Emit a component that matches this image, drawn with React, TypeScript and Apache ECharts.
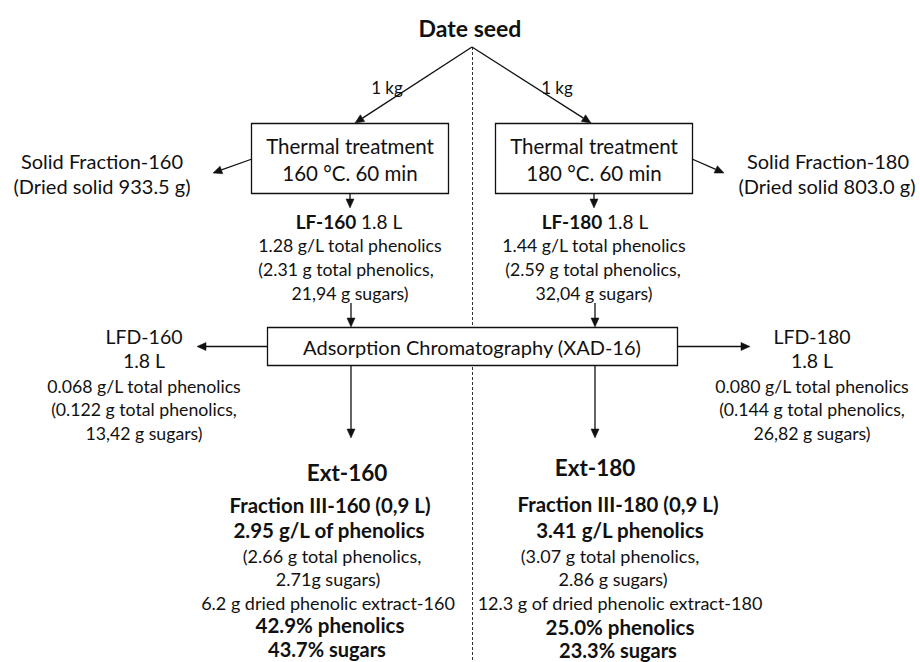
import React, { useEffect, useRef } from "react";
import * as echarts from "echarts";

// ---------- content ----------
const title = "Date seed";
const feedLabels = ["1 kg", "1 kg"];
const treatmentLines = [
  ["Thermal treatment", "160 °C. 60 min"],
  ["Thermal treatment", "180 °C. 60 min"],
];
const solidFractionLines = [
  ["Solid Fraction-160", "(Dried solid 933.5 g)"],
  ["Solid Fraction-180", "(Dried solid 803.0 g)"],
];
const liquidNames = ["LF-160", "LF-180"];
const liquidVolumes = ["1.8 L", "1.8 L"];
const liquidDetails = [
  ["1.28 g/L total phenolics", "(2.31 g total phenolics,", "21,94 g sugars)"],
  ["1.44 g/L total phenolics", "(2.59 g total phenolics,", "32,04 g sugars)"],
];
const adsorptionLabel = "Adsorption Chromatography (XAD-16)";
const depletedNames = ["LFD-160", "LFD-180"];
const depletedVolumes = ["1.8 L", "1.8 L"];
const depletedDetails = [
  ["0.068 g/L total phenolics", "(0.122 g total phenolics,", "13,42 g sugars)"],
  ["0.080 g/L total phenolics", "(0.144 g total phenolics,", "26,82 g sugars)"],
];
const extractNames = ["Ext-160", "Ext-180"];
const extractFractions = ["Fraction III-160 (0,9 L)", "Fraction III-180 (0,9 L)"];
const extractConcentrations = ["2.95 g/L of phenolics", "3.41 g/L phenolics"];
const extractDetails = [
  ["(2.66 g total phenolics,", "2.71g sugars)", "6.2 g dried phenolic extract-160"],
  ["(3.07 g total phenolics,", "2.86 g sugars)", "12.3 g of dried phenolic extract-180"],
];
const extractComposition = [
  ["42.9% phenolics", "43.7% sugars"],
  ["25.0% phenolics", "23.3% sugars"],
];

// ---------- layout ----------
const FONT = "Lato, 'Noto Sans', sans-serif";
const INK = "#111";

function txt(text: string, x: number, y: number, size: number, bold = false): any {
  return {
    type: "text",
    x,
    y,
    style: {
      text,
      fill: INK,
      font: `${bold ? "bold " : ""}${size}px ${FONT}`,
      fontSize: size,
      fontWeight: bold ? "bold" : "normal",
      fontFamily: FONT,
      align: "center",
      verticalAlign: "middle",
    },
  };
}

function mixed(boldPart: string, rest: string, x: number, y: number, size: number): any {
  return {
    type: "text",
    x,
    y,
    style: {
      text: `{b|${boldPart}}{n| ${rest}}`,
      fill: INK,
      align: "center",
      verticalAlign: "middle",
      rich: {
        b: { fontSize: size, fontWeight: "bold", fontFamily: FONT, fill: INK },
        n: { fontSize: size, fontWeight: "normal", fontFamily: FONT, fill: INK },
      },
    },
  };
}

function arrow(x1: number, y1: number, x2: number, y2: number): any[] {
  const a = Math.atan2(y2 - y1, x2 - x1);
  const L = 9;
  const w = 4;
  const bx = x2 - L * Math.cos(a);
  const by = y2 - L * Math.sin(a);
  const px = -Math.sin(a) * w;
  const py = Math.cos(a) * w;
  return [
    { type: "line", shape: { x1, y1, x2: bx, y2: by }, style: { stroke: INK, lineWidth: 1.3 } },
    {
      type: "polygon",
      shape: { points: [[x2, y2], [bx + px, by + py], [bx - px, by - py]] },
      style: { fill: INK, stroke: INK, lineWidth: 0.5 },
    },
  ];
}

function box(x: number, y: number, w: number, h: number): any {
  return {
    type: "rect",
    shape: { x, y, width: w, height: h },
    style: { fill: "#fff", stroke: INK, lineWidth: 1.3 },
  };
}

function buildGraphic(): any[] {
  const g: any[] = [];
  // dashed separator
  g.push({
    type: "line",
    shape: { x1: 472.5, y1: 47, x2: 472.5, y2: 662 },
    style: { stroke: "#333", lineWidth: 1, lineDash: [3, 2] },
  });
  // title
  g.push(txt(title, 470, 28, 23, true));
  // feed arrows
  g.push(...arrow(472, 47, 355, 123));
  g.push(...arrow(472, 47, 591, 123));
  g.push(txt(feedLabels[0], 387, 87, 17));
  g.push(txt(feedLabels[1], 557, 87, 17));

  const boxX = [251.5, 495.5];
  const colX = [350, 594];
  for (let i = 0; i < 2; i++) {
    g.push(box(boxX[i], 123.5, 197, 70));
    const cx = boxX[i] + 98.5;
    g.push(txt(treatmentLines[i][0], cx, 146, 20.5));
    g.push(txt(treatmentLines[i][1], cx, 173, 20.5));
    g.push(...arrow(colX[i], 193.5, colX[i], 208));
  }
  // solid fractions
  g.push(...arrow(252, 159, 213, 173));
  g.push(...arrow(692, 159, 724, 173));
  g.push(txt(solidFractionLines[0][0], 102, 161, 20));
  g.push(txt(solidFractionLines[0][1], 102, 186, 20));
  g.push(txt(solidFractionLines[1][0], 828, 161, 20));
  g.push(txt(solidFractionLines[1][1], 827, 186, 20));

  // liquid fractions
  const lfX = [349, 595];
  const lfDetX = [[350, 346, 350], [594, 593, 594]];
  for (let i = 0; i < 2; i++) {
    g.push(mixed(liquidNames[i], liquidVolumes[i], lfX[i], 221, 19));
    liquidDetails[i].forEach((t, j) => g.push(txt(t, lfDetX[i][j], 245 + 24 * j, 17.7)));
  }
  g.push(...arrow(351, 303, 351, 327));
  g.push(...arrow(595, 303, 595, 327));

  // adsorption
  g.push(box(267.5, 327.5, 410, 38));
  g.push(txt(adsorptionLabel, 472, 347, 20));
  g.push(...arrow(267, 346.5, 197, 346.5));
  g.push(...arrow(677, 346.5, 750, 346.5));
  g.push(...arrow(351, 366, 351, 438));
  g.push(...arrow(595, 366, 595, 438));

  // depleted fractions
  const ldX = [144, 812];
  for (let i = 0; i < 2; i++) {
    g.push(txt(depletedNames[i], ldX[i], 336, 19.5));
    g.push(txt(depletedVolumes[i], ldX[i], 360, 19.5));
    depletedDetails[i].forEach((t, j) => g.push(txt(t, ldX[i], 386 + 23.5 * j, 17.7)));
  }

  // extracts
  const extX = [
    [347, 330, 329, 332, 328, 328, 330, 327],
    [595, 618, 620, 610, 613, 620, 620, 618],
  ];
  const extY = [
    [472, 505, 530, 556, 579, 603, 625, 649],
    [467, 504, 530, 556, 579, 603, 627, 650],
  ];
  for (let i = 0; i < 2; i++) {
    const xs = extX[i];
    const ys = extY[i];
    g.push(txt(extractNames[i], xs[0], ys[0], 22.5, true));
    g.push(txt(extractFractions[i], xs[1], ys[1], 20.4, true));
    g.push(txt(extractConcentrations[i], xs[2], ys[2], 20.5, true));
    extractDetails[i].forEach((t, j) => g.push(txt(t, xs[3 + j], ys[3 + j], 18)));
    g.push(txt(extractComposition[i][0], xs[6], ys[6], 20.5, true));
    g.push(txt(extractComposition[i][1], xs[7], ys[7], 20, true));
  }
  return g;
}

export default function App() {
  const ref = useRef<HTMLDivElement>(null);
  useEffect(() => {
    if (!ref.current) return;
    document.body.style.margin = "0";
    const chart = echarts.init(ref.current, undefined, { renderer: "svg" });
    chart.setOption({
      animation: false,
      backgroundColor: "#fff",
      graphic: { elements: buildGraphic() },
    });
    return () => chart.dispose();
  }, []);
  return (
    <div
      ref={ref}
      style={{ position: "fixed", left: 0, top: 0, width: 920, height: 662, background: "#fff" }}
    />
  );
}
